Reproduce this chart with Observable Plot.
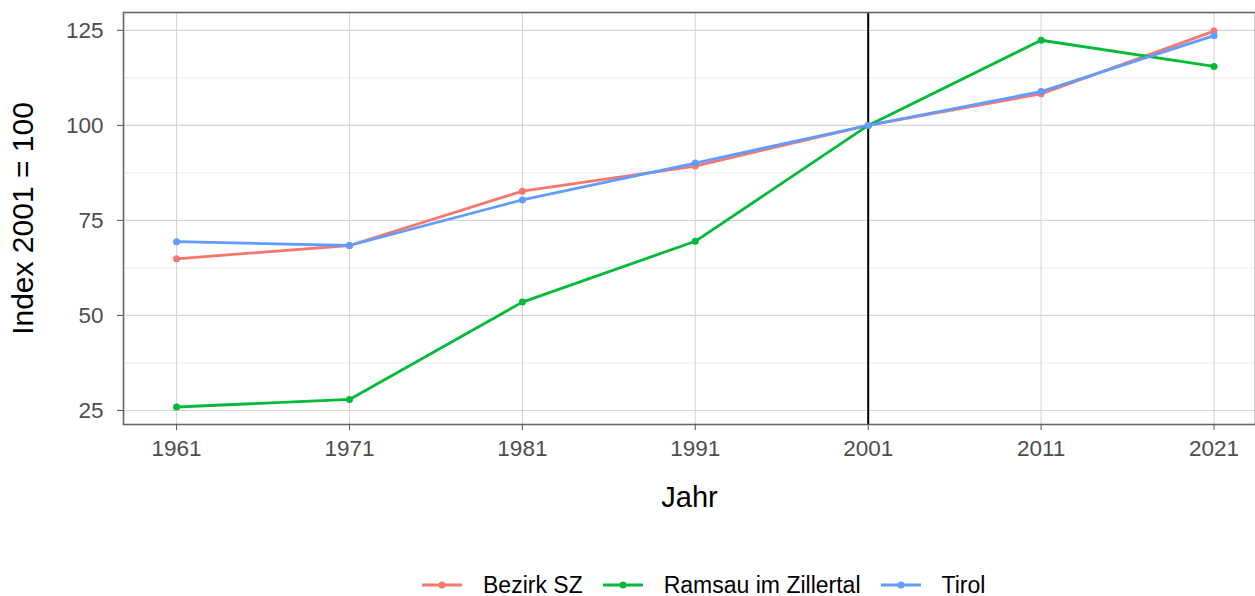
<!DOCTYPE html>
<html>
<head>
<meta charset="utf-8">
<script src="https://cdn.jsdelivr.net/npm/d3@7"></script>
<script src="https://cdn.jsdelivr.net/npm/@observablehq/plot@0.6"></script>
<style>
  html, body { margin: 0; padding: 0; background: #fff; overflow: hidden; }
  body { width: 1255px; height: 596px; position: relative; font-family: "Liberation Sans", Arial, sans-serif; }
  #legend { position: absolute; left: 422px; top: 571px; height: 28px; display: flex; align-items: center; font-size: 23px; color: #000; }
  .item { display: flex; align-items: center; margin-right: 20px; }
  .item svg { margin-right: 21px; }
</style>
</head>
<body>
<div id="chart"></div>
<div id="legend"></div>
<script>
const years = [1961, 1971, 1981, 1991, 2001, 2011, 2021];
const seriesNames = ["Bezirk SZ", "Ramsau im Zillertal", "Tirol"];
const bezirkSZ = [64.9, 68.4, 82.7, 89.3, 100, 108.3, 124.8];
const ramsau = [25.9, 27.9, 53.5, 69.5, 100, 122.4, 115.5];
const tirol = [69.4, 68.4, 80.4, 90.1, 100, 108.9, 123.6];
const colors = ["#F8766D", "#00BA38", "#619CFF"];
const yTicks = [25, 50, 75, 100, 125];
const yMinor = [37.5, 62.5, 87.5, 112.5];
const refYear = [2001];

const seriesValues = [bezirkSZ, ramsau, tirol];
const data = [];
seriesNames.forEach((s, i) => years.forEach((y, j) => data.push({series: s, year: y, value: seriesValues[i][j]})));

const chart = Plot.plot({
  width: 1255,
  height: 530,
  marginLeft: 123,
  marginRight: 0,
  marginTop: 12,
  marginBottom: 106,
  style: {fontFamily: "'Liberation Sans', Arial, sans-serif", background: "#fff"},
  x: {domain: [1957.93, 2023.4], ticks: years, tickFormat: d => String(d)},
  y: {domain: [21.3, 129.7], ticks: yTicks},
  color: {domain: seriesNames, range: colors},
  marks: [
    Plot.ruleY(yMinor, {stroke: "#ebebeb", strokeWidth: 1}),
    Plot.gridY(yTicks, {stroke: "#d6d6d6", strokeOpacity: 1, strokeWidth: 1.1}),
    Plot.gridX(years, {stroke: "#d6d6d6", strokeOpacity: 1, strokeWidth: 1.1}),
    Plot.ruleX(refYear, {stroke: "#000", strokeWidth: 2}),
    Plot.frame({stroke: "#666", strokeWidth: 1.6}),
    Plot.line(data, {x: "year", y: "value", z: "series", stroke: "series", strokeWidth: 2.8}),
    Plot.dot(data, {x: "year", y: "value", fill: "series", r: 3.5}),
    Plot.axisX(years, {tickSize: 6, tickPadding: 10, fontSize: 22.5, color: "#4d4d4d", stroke: "#555", label: null, tickFormat: d => String(d)}),
    Plot.axisY(yTicks, {tickSize: 6, tickPadding: 14, fontSize: 22.5, color: "#4d4d4d", stroke: "#555", label: null}),
    Plot.text(["Jahr"], {frameAnchor: "bottom", dy: 82, fontSize: 29, fill: "#000"}),
    Plot.text(["Index 2001 = 100"], {frameAnchor: "left", textAnchor: "middle", dx: -100, rotate: -90, fontSize: 30, fill: "#000"})
  ]
});
document.getElementById("chart").appendChild(chart);

const legend = document.getElementById("legend");
seriesNames.forEach((s, i) => {
  const item = document.createElement("div");
  item.className = "item";
  item.innerHTML = `<svg width="40" height="12"><line x1="0" x2="40" y1="6" y2="6" stroke="${colors[i]}" stroke-width="2.8"/><circle cx="20" cy="6" r="3.5" fill="${colors[i]}"/></svg><span>${s}</span>`;
  legend.appendChild(item);
});
</script>
</body>
</html>
